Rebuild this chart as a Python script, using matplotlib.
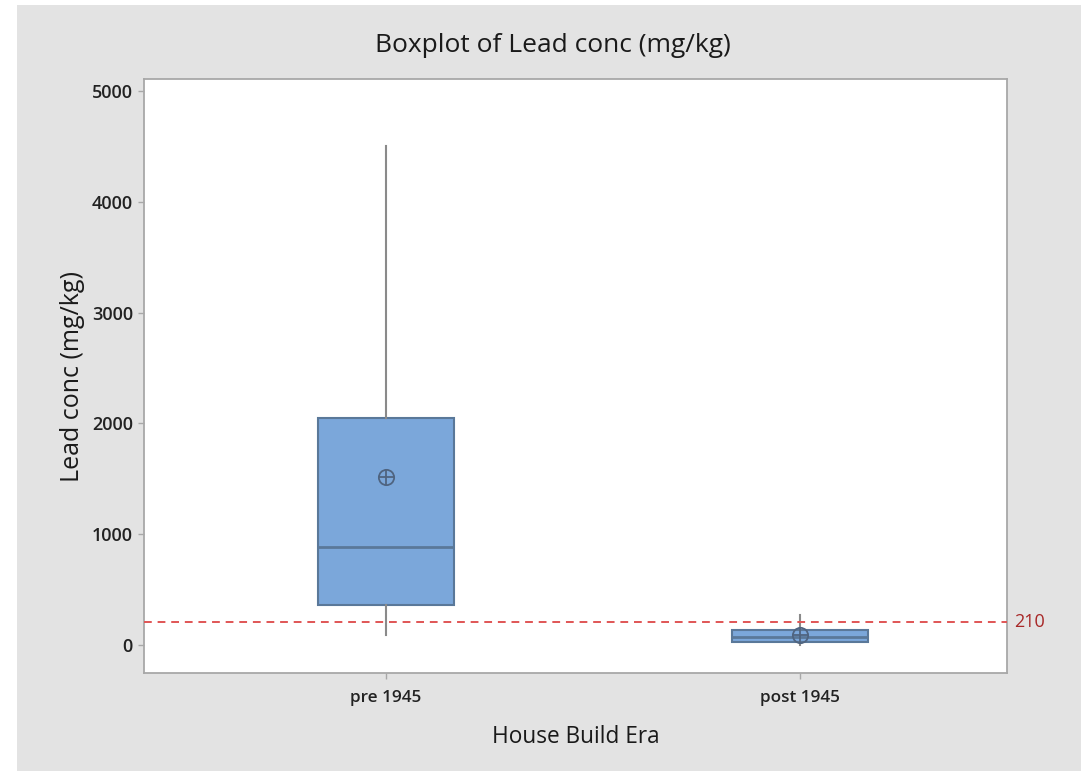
import matplotlib
matplotlib.use("Agg")
import matplotlib.pyplot as plt
from matplotlib.patches import Rectangle

plt.rcParams['font.family'] = ['Open Sans', 'DejaVu Sans']

categories = ["pre 1945", "post 1945"]
q1 = [362, 27]
median = [886, 72]
q3 = [2052, 136]
whisker_low = [90, 0]
whisker_high = [4503, 271]
means = [1519, 90]
reference_value = 210
yticks = [0, 1000, 2000, 3000, 4000, 5000]

W, H = 1081, 771
fig = plt.figure(figsize=(W / 100, H / 100), dpi=100)
fig.patch.set_facecolor('white')
fig.add_artist(Rectangle((17 / W, 0), 1 - 17 / W, 1 - 5 / H, transform=fig.transFigure,
                         facecolor='#e3e3e3', edgecolor='none', zorder=-10))

ax = fig.add_axes([144 / W, 1 - 673 / H, (1007 - 144) / W, (673 - 79) / H])
ax.set_facecolor('white')

positions = [1, 2]
stats = []
for i, c in enumerate(categories):
    stats.append(dict(label=c, q1=q1[i], med=median[i], q3=q3[i],
                      whislo=whisker_low[i], whishi=whisker_high[i],
                      mean=means[i], fliers=[]))

ax.bxp(stats, positions=positions, widths=0.33, patch_artist=True,
       showmeans=False, showcaps=False, showfliers=False,
       boxprops=dict(facecolor='#7ba7da', edgecolor='#5a7899', linewidth=1.5),
       medianprops=dict(color='#5a7899', linewidth=2),
       whiskerprops=dict(color='#8a8a8a', linewidth=1.5), zorder=3)

# mean symbols (circle with cross)
ax.plot(positions, means, linestyle='none', marker='o', markersize=11,
        markerfacecolor='none', markeredgecolor='#4f6480', markeredgewidth=1.3, zorder=5)
ax.plot(positions, means, linestyle='none', marker='+', markersize=11,
        markeredgecolor='#4f6480', markeredgewidth=1.3, zorder=5)

# reference line
ax.axhline(reference_value, color='#e05555', linestyle=(0, (4, 3)), linewidth=1.4, zorder=6)
ax.text(1.008, reference_value, str(reference_value), transform=ax.get_yaxis_transform(),
        color='#a82828', fontsize=13, va='center', ha='left')

ax.set_xlim(0.4155, 2.5)
ax.set_ylim(-253, 5108)
ax.set_yticks(yticks)
ax.set_yticklabels([str(v) for v in yticks])
ax.set_xticks(positions)
ax.set_xticklabels(categories)

for s in ax.spines.values():
    s.set_color('#a8a8a8')
    s.set_linewidth(1.3)

ax.tick_params(axis='both', colors='#a8a8a8', length=4, width=1,
               labelcolor='#222222')
ax.tick_params(axis='y', labelsize=13, pad=4)
ax.tick_params(axis='x', labelsize=12.3, pad=8)
for lab in ax.get_xticklabels() + ax.get_yticklabels():
    lab.set_fontweight('semibold')

ax.set_xlabel('House Build Era', fontsize=16.3, color='#1a1a1a', labelpad=14)
ax.set_ylabel('Lead conc (mg/kg)', fontsize=18, color='#1a1a1a', labelpad=5)
fig.text(553 / W, 1 - 45 / H, 'Boxplot of Lead conc (mg/kg)', ha='center', va='center',
         fontsize=19, color='#1a1a1a', fontweight='medium')

fig.savefig('out.png', dpi=100, facecolor=fig.get_facecolor())
